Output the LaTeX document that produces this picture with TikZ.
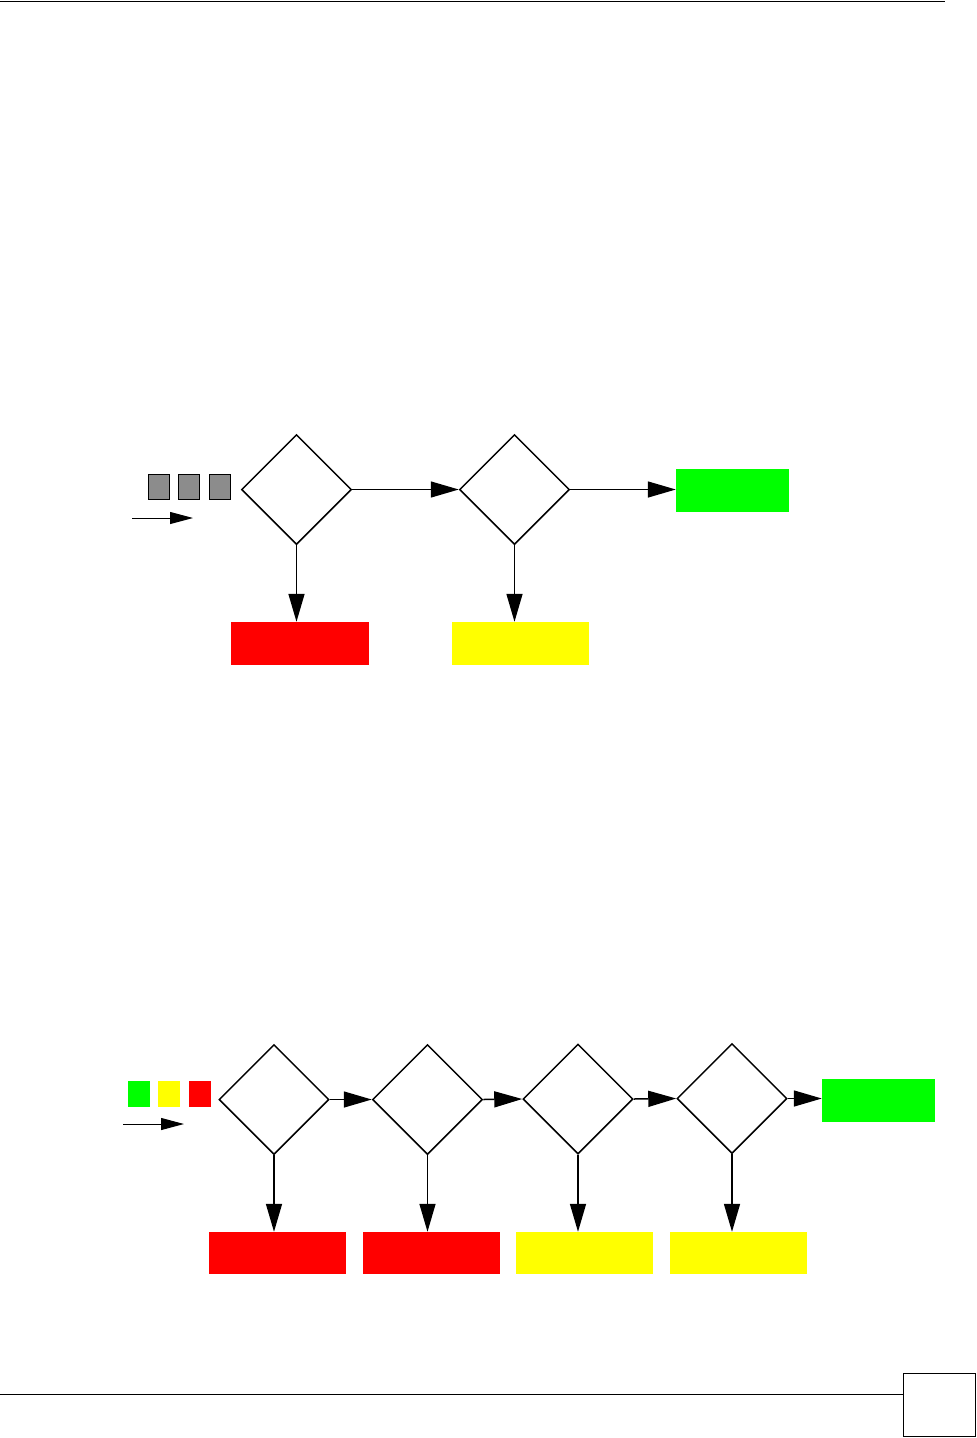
\documentclass[tikz,border=0pt]{standalone}
\usetikzlibrary{shapes.geometric,arrows.meta}
\definecolor{pure red}{RGB}{255,0,0}
\definecolor{pure yellow}{RGB}{255,255,0}
\definecolor{pure green}{RGB}{0,255,0}
\tikzset{
  dec/.style={draw=black,line width=1.5pt,shape=diamond,aspect=1,minimum width=110pt,minimum height=110pt,inner sep=0pt},
  res/.style={shape=rectangle,draw=none,inner sep=0pt,minimum width=137pt,minimum height=43pt},
  grn/.style={res,fill=pure green,minimum width=113pt},
  pkt/.style={shape=rectangle,inner sep=0pt,minimum width=21pt,minimum height=25pt},
  flow/.style={line width=1.5pt,-{Triangle[length=28pt,width=16pt]}},
  dirarrow/.style={line width=1pt,-{Triangle[length=23pt,width=12pt]}}
}
\begin{document}
\begin{tikzpicture}[x=1pt,y=-1pt]
\useasboundingbox (0,0) rectangle (977,1438);
% page frame lines
\coordinate (tl) at (0,1);
\coordinate (tr) at (945,1);
\draw[line width=1pt] (tl) -- (tr);
\node[shape=rectangle,draw=black,line width=1.6pt,minimum width=72pt,minimum height=63pt,inner sep=0pt] (pg) at (939.5,1405) {};
\coordinate (bl) at (0,1394.5);
\draw[line width=0.8pt] (bl) -- (bl -| pg.west);

% ---------- diagram 1 ----------
\node[pkt,fill=black!45,draw=black,line width=0.6pt] (s1) at (158.5,486.5) {};
\node[pkt,fill=black!45,draw=black,line width=0.6pt] (s2) at (188.5,486.5) {};
\node[pkt,fill=black!45,draw=black,line width=0.6pt] (s3) at (220,486.5) {};
\coordinate (a1s) at (132,518);
\coordinate (a1e) at (193,518);
\draw[dirarrow] (a1s) -- (a1e);

\node[dec] (d1) at (296.5,489.5) {};
\node[dec] (d2) at (514.5,489.5) {};
\node[grn] (g1) at (732.5,490.5) {};
\node[res,fill=pure red,minimum width=138pt] (r1) at (300,643.5) {};
\node[res,fill=pure yellow] (y1) at (520.5,643.5) {};

\draw[flow] (d1.east) -- (d2.west);
\draw[flow] (d2.east) -- (d2.east -| g1.west);
\draw[flow] (d1.south) -- (d1.south |- r1.north);
\draw[flow] (d2.south) -- (d2.south |- y1.north);

% ---------- diagram 2 ----------
\node[pkt,fill=pure green,minimum width=22pt,minimum height=26pt] (c1) at (139,1094) {};
\node[pkt,fill=pure yellow,minimum width=22pt,minimum height=26pt] (c2) at (169,1094) {};
\node[pkt,fill=pure red,minimum width=22pt,minimum height=26pt] (c3) at (200,1094) {};
\coordinate (a2s) at (123,1124);
\coordinate (a2e) at (184,1124);
\draw[dirarrow] (a2s) -- (a2e);

\node[dec] (e1) at (274,1099.5) {};
\node[dec] (e2) at (427.5,1099.5) {};
\node[dec] (e3) at (578,1099) {};
\node[dec] (e4) at (732,1098.5) {};
\node[grn] (g2) at (878.5,1100.5) {};

\node[res,fill=pure red,minimum height=42pt] (f1) at (277.5,1253) {};
\node[res,fill=pure red,minimum height=42pt] (f2) at (431.5,1253) {};
\node[res,fill=pure yellow,minimum height=42pt] (f3) at (584.5,1253) {};
\node[res,fill=pure yellow,minimum height=42pt] (f4) at (738,1253) {};

\draw[flow] (e1.east) -- (e2.west);
\draw[flow] (e2.east) -- (e3.west);
\draw[flow] (e3.east) -- (e4.west);
\draw[flow] (e4.east) -- (e4.east -| g2.west);
\draw[flow] (e1.south) -- (e1.south |- f1.north);
\draw[flow] (e2.south) -- (e2.south |- f2.north);
\draw[flow] (e3.south) -- (e3.south |- f3.north);
\draw[flow] (e4.south) -- (e4.south |- f4.north);
\end{tikzpicture}
\end{document}
